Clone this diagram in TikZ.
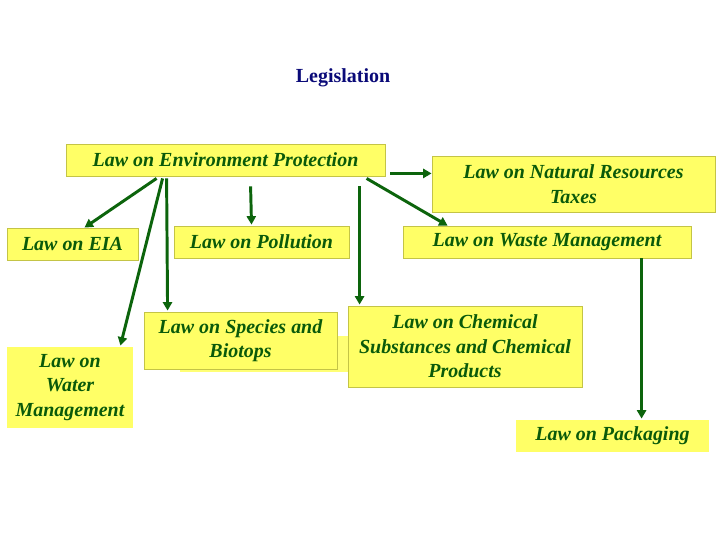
\documentclass[tikz,border=0pt]{standalone}
\usepackage{fontspec}
\setmainfont{Liberation Serif}
\usepackage{xcolor}
\usetikzlibrary{arrows.meta, positioning, calc}

\definecolor{lawfill}{RGB}{255,255,102}
\definecolor{lawline}{RGB}{196,196,70}
\definecolor{lawtext}{RGB}{10,90,10}
\definecolor{arrgreen}{RGB}{12,100,12}
\definecolor{titleblue}{RGB}{10,10,120}

% one pixel of the slide
\newlength\pxu
\setlength{\pxu}{0.025cm}

\tikzset{
    law/.style={fill=lawfill, draw=lawline, line width=0.6pt, inner sep=0pt,
        text=lawtext, font=\fontsize{14.2}{17.5}\selectfont\bfseries\itshape, align=center},
    lawplain/.style={law, draw=none},
    arr/.style={draw=arrgreen, line width=2.1pt,
        -{Triangle[width=6.5pt,length=6pt]}}
}

\begin{document}
\begin{tikzpicture}[x=0.025cm, y=-0.025cm]
    % page frame
    \useasboundingbox (0,0) rectangle (720,540);

    % Title
    \node[text=titleblue, font=\fontsize{14.2}{17}\selectfont\bfseries] (title) at (343,78) {Legislation};

    % Top row
    \node[law, minimum width=319\pxu, minimum height=32\pxu] (env) at (225.5,160)
        {Law on Environment Protection};
    \node[law, minimum width=283\pxu, minimum height=56\pxu] (natres) at (573.5,184)
        {Law on Natural Resources\\Taxes};

    % Second row
    \node[law, minimum width=131\pxu, minimum height=32\pxu] (eia) at (72.5,244) {Law on EIA};
    \node[law, minimum width=175\pxu, minimum height=32\pxu] (pollution) at (261.5,242) {Law on Pollution};
    \node[law, minimum width=288\pxu, minimum height=32\pxu] (waste) at (547,242) {Law on Waste Management};

    % Third row
    \fill[lawfill!90!white] (180,336) rectangle (350,372);
    \node[law, minimum width=193\pxu, minimum height=57\pxu] (species) at (240.5,340.5)
        {Law on Species and\\Biotops};
    \node[law, minimum width=234\pxu, minimum height=81\pxu] (chem) at (465,346.5)
        {Law on Chemical\\Substances and Chemical\\Products};
    \node[lawplain, minimum width=126\pxu, minimum height=81\pxu] (water) at (70,387.5)
        {Law on\\Water\\Management};

    % Bottom
    \node[lawplain, minimum width=193\pxu, minimum height=32\pxu] (pack) at (612.5,436) {Law on Packaging};

    % Arrows out of the main law
    \draw[arr] ($(env.south west)+(91,2)$) -- ($(eia.north)+(12,0)$);
    \draw[arr] ($(env.south west)+(97,2)$) -- ($(water.north east)+(-13,-1)$);
    \draw[arr] ($(env.south west)+(101,2)$) -- ($(species.north west)+(24,-1)$);
    \draw[arr] ($(env.south west)+(185,10)$) -- ($(pollution.north)+(-10,-1)$);
    \draw[arr] ($(env.south west)+(294,10)$) -- ($(chem.north west)+(12,-1)$);
    \draw[arr] ($(env.south west)+(301,2)$) -- ($(waste.north west)+(45,0)$);
    \coordinate (rt) at ($(env.south east)+(5,-3)$);
    \draw[arr] (rt) -- (rt -| natres.west);

    % Waste to packaging
    \coordinate (wp) at ($(waste.south west)+(239,0)$);
    \draw[arr] (wp) -- ($(wp |- pack.north)+(0,-1)$);
\end{tikzpicture}
\end{document}
